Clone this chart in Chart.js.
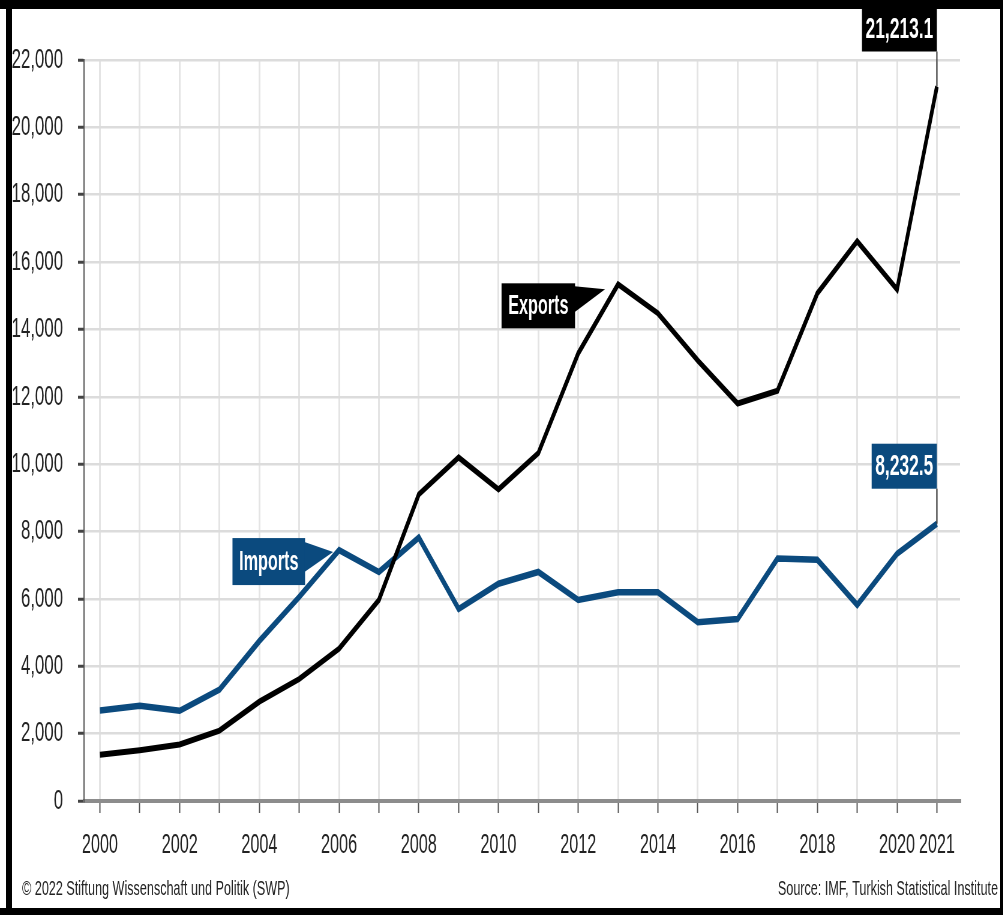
<!DOCTYPE html>
<html>
<head>
<meta charset="utf-8">
<script src="https://cdn.jsdelivr.net/npm/chart.js@4.4.1/dist/chart.umd.min.js"></script>
<style>
  html, body { margin: 0; padding: 0; overflow: hidden; background: #fff; }
  #wrap { position: absolute; left: 0; top: 0; width: 1003px; height: 915px; overflow: hidden; }
  #chart { transform: scaleX(0.6); transform-origin: 0 0; }
  .frame { position: absolute; background: #000; }
</style>
</head>
<body>
<div id="wrap">
  <canvas id="chart" width="1672" height="915"></canvas>
  <div class="frame" style="left:0;top:0;width:1003px;height:9px"></div>
  <div class="frame" style="left:0;top:908px;width:1003px;height:7px"></div>
  <div class="frame" style="left:1000px;top:0;width:3px;height:915px"></div>
  <div class="frame" style="left:6px;top:0;width:6px;height:915px"></div>
</div>
<script>
// values in US$ million
const years = [2000, 2001, 2002, 2003, 2004, 2005, 2006, 2007, 2008, 2009, 2010,
               2011, 2012, 2013, 2014, 2015, 2016, 2017, 2018, 2019, 2020, 2021];
const exportsVals = [1370, 1510, 1680, 2090, 2950, 3620, 4520, 5970, 9100, 10200, 9250,
                     10330, 13290, 15340, 14480, 13080, 11800, 12180, 15070, 16620, 15190, 21213.1];
const importsVals = [2690, 2830, 2680, 3310, 4750, 6060, 7450, 6800, 7820, 5700, 6450,
                     6800, 5970, 6200, 6200, 5310, 5400, 7200, 7160, 5820, 7340, 8232.5];
const xTickLabels = [2000, 2002, 2004, 2006, 2008, 2010, 2012, 2014, 2016, 2018, 2020, 2021];
const yTicks = [0, 2000, 4000, 6000, 8000, 10000, 12000, 14000, 16000, 18000, 20000, 22000];

const S = 0.6; // horizontal squeeze of the canvas
const BLUE = '#0b4a7e';
const FONT = "'Liberation Sans', Arial, sans-serif";
Chart.defaults.font.family = FONT;

function valueBox(ctx, px, py, text, color) {
  ctx.save();
  ctx.font = 'bold 29px ' + FONT;
  const bw = ctx.measureText(text).width + 12;
  const bh = 45;
  const bottom = py - 35;
  ctx.strokeStyle = '#333';
  ctx.lineWidth = 2;
  ctx.beginPath();
  ctx.moveTo(px, bottom);
  ctx.lineTo(px, py);
  ctx.stroke();
  ctx.fillStyle = color;
  ctx.fillRect(px - bw, bottom - bh, bw, bh);
  ctx.fillStyle = '#fff';
  ctx.textAlign = 'center';
  ctx.textBaseline = 'middle';
  ctx.fillText(text, px - bw / 2, bottom - bh / 2 + 1);
  ctx.restore();
}

function callout(ctx, px, py, text, color, dx, dy, bh, tri) {
  ctx.save();
  ctx.font = 'bold 27px ' + FONT;
  const bw = ctx.measureText(text).width + 22;
  const R = px + dx / S;
  const T = py + dy;
  ctx.fillStyle = color;
  ctx.fillRect(R - bw, T, bw, bh);
  ctx.beginPath();
  ctx.moveTo(R - 1, T + tri[0]);
  ctx.lineTo(R + tri[1] / S, T + tri[2]);
  ctx.lineTo(R - 1, T + tri[3]);
  ctx.closePath();
  ctx.fill();
  ctx.fillStyle = '#fff';
  ctx.textAlign = 'center';
  ctx.textBaseline = 'middle';
  ctx.fillText(text, R - bw / 2, T + bh / 2 + 1);
  ctx.restore();
}

const annotations = {
  id: 'annotations',
  afterDatasetsDraw(chart) {
    const ctx = chart.ctx;
    const x = chart.scales.x, y = chart.scales.y;
    const last = years.length - 1;
    const fmt = v => v.toLocaleString('en-US', { minimumFractionDigits: 1 });
    valueBox(ctx, x.getPixelForValue(years[last]), y.getPixelForValue(exportsVals[last]), fmt(exportsVals[last]), '#000');
    valueBox(ctx, x.getPixelForValue(years[last]), y.getPixelForValue(importsVals[last]), fmt(importsVals[last]), BLUE);
    callout(ctx, x.getPixelForValue(2013), y.getPixelForValue(exportsVals[13]), 'Exports', '#000', -43, -1, 45, [3, 30, 6, 29]);
    callout(ctx, x.getPixelForValue(2006), y.getPixelForValue(importsVals[6]), 'Imports', BLUE, -34, -12, 47, [4, 28, 14, 34]);
  },
  afterDraw(chart) {
    const ctx = chart.ctx;
    ctx.save();
    ctx.font = '21px ' + FONT;
    ctx.fillStyle = '#222';
    ctx.textBaseline = 'middle';
    ctx.textAlign = 'left';
    ctx.fillText('© 2022 Stiftung Wissenschaft und Politik (SWP)', 22 / S, 889);
    ctx.textAlign = 'right';
    ctx.fillText('Source: IMF, Turkish Statistical Institute', 998 / S, 889);
    ctx.restore();
  }
};

const ctx = document.getElementById('chart').getContext('2d');
const tradeChart = new Chart(ctx, {
  type: 'line',
  data: {
    datasets: [{
      label: 'Exports',
      data: years.map((yr, i) => ({ x: yr, y: exportsVals[i] })),
      borderColor: '#000',
      borderWidth: 6,
      pointRadius: 0,
      tension: 0,
      fill: false
    }, {
      label: 'Imports',
      data: years.map((yr, i) => ({ x: yr, y: importsVals[i] })),
      borderColor: BLUE,
      borderWidth: 6.5,
      pointRadius: 0,
      tension: 0,
      fill: false
    }]
  },
  options: {
    responsive: false,
    animation: false,
    devicePixelRatio: 1,
    layout: { padding: { top: 60, right: 72, bottom: 54, left: 0 } },
    plugins: { legend: { display: false }, tooltip: { enabled: false } },
    scales: {
      x: {
        type: 'linear',
        min: 1999.6,
        max: 2021.58,
        afterBuildTicks: scale => { scale.ticks = years.map(v => ({ value: v })); },
        afterFit: scale => { scale.height = 60; },
        ticks: {
          autoSkip: false,
          maxRotation: 0,
          padding: 16,
          color: '#222',
          font: { size: 27 },
          callback: v => xTickLabels.includes(v) ? String(v) : ''
        },
        grid: { color: '#e4e4e4', lineWidth: 3, tickColor: '#555', tickLength: 12, tickWidth: 2 },
        border: { color: '#8c8c8c', width: 4 }
      },
      y: {
        min: 0,
        max: 22000,
        afterBuildTicks: scale => { scale.ticks = yTicks.map(v => ({ value: v })); },
        afterFit: scale => { scale.width = 140; },
        ticks: {
          padding: 25,
          color: '#222',
          font: { size: 28 },
          callback: v => v.toLocaleString('en-US')
        },
        grid: { color: '#dcdcdc', lineWidth: 2.5, tickColor: '#444', tickLength: 10, tickWidth: 3 },
        border: { color: '#555', width: 2 }
      }
    }
  },
  plugins: [annotations]
});
</script>
</body>
</html>
